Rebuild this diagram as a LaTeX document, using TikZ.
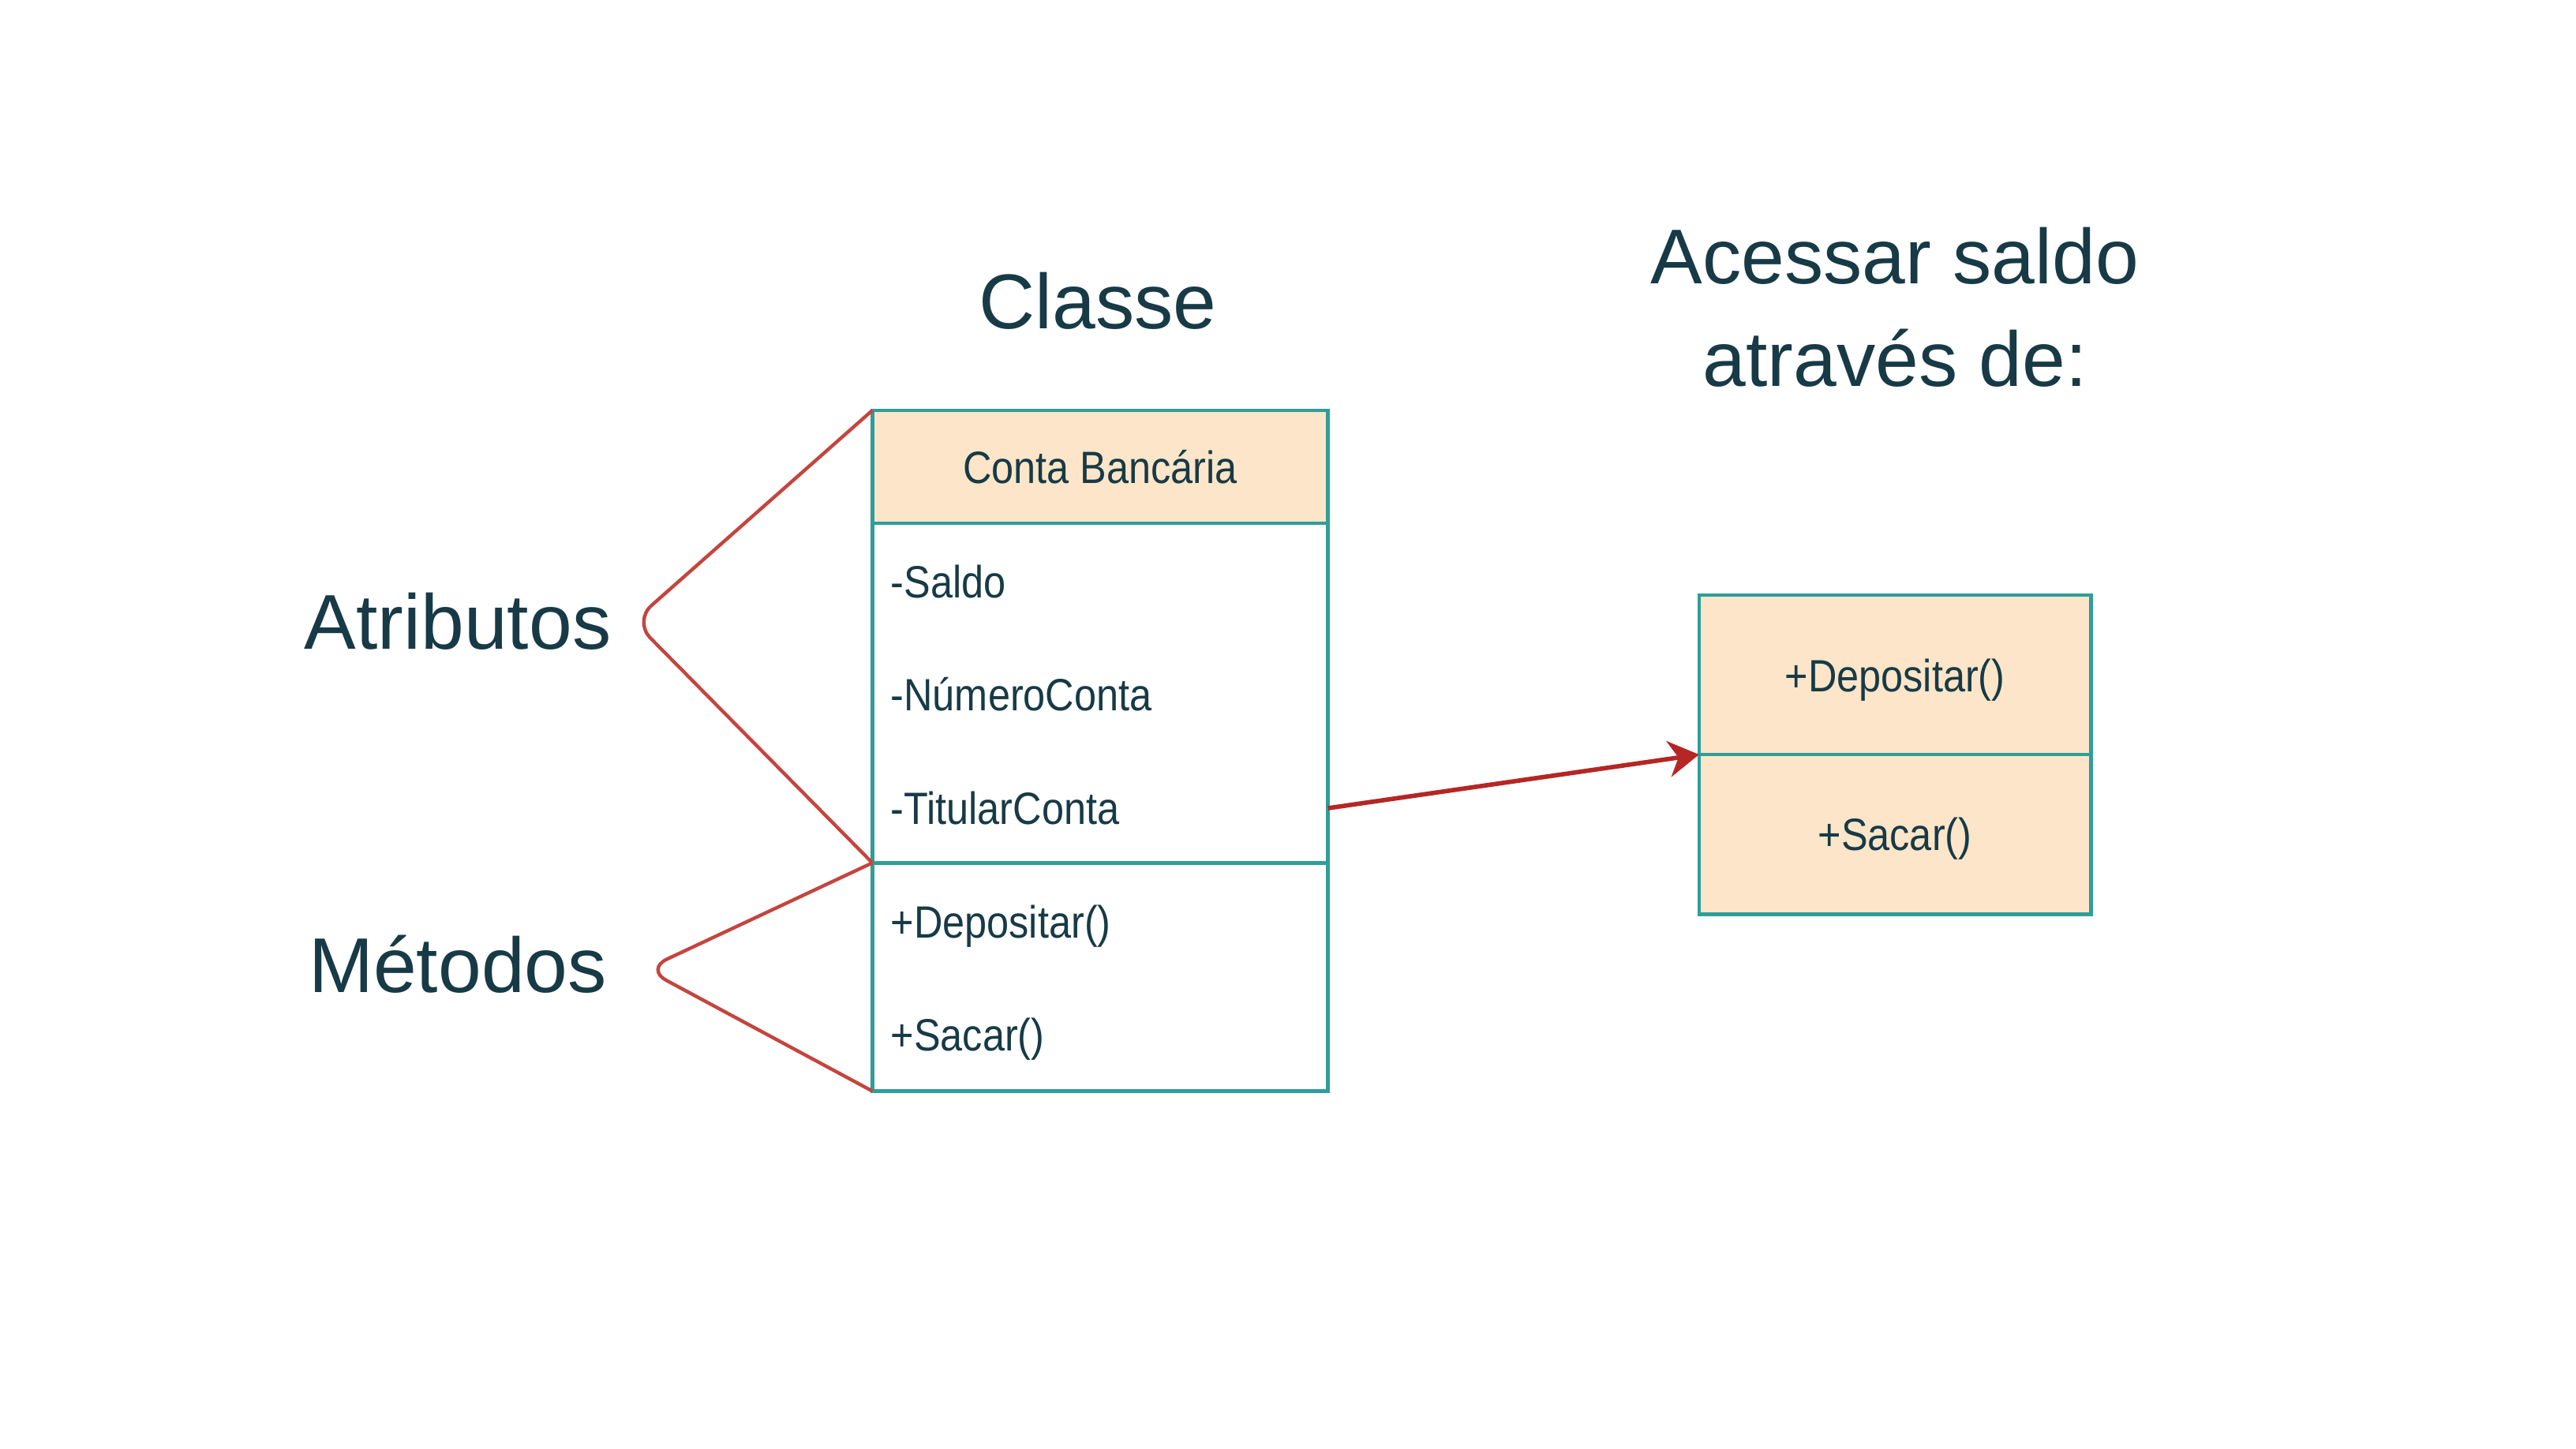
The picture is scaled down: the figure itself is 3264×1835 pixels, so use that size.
\documentclass[tikz,border=0pt]{standalone}
\usepackage{fontspec}
\setmainfont{Liberation Sans}
\newfontfamily\narrowfont[FakeStretch=0.88]{Liberation Sans}
\usetikzlibrary{arrows.meta}
\definecolor{txt}{HTML}{173A46}
\definecolor{teal}{HTML}{2E9E9A}
\definecolor{peach}{HTML}{FCE5C8}
\definecolor{bracket}{HTML}{C4453F}
\definecolor{arrowred}{HTML}{B52624}
\tikzset{
  part/.style={draw=teal, line width=1.35pt, minimum width=5.77cm, inner sep=0pt, outer sep=0pt},
  hdr/.style={part, fill=peach, minimum height=1.43cm, font=\narrowfont\fontsize{16.3}{19}\selectfont, text=txt},
  body/.style={part, fill=white},
  item/.style={anchor=west, inner sep=0pt, font=\narrowfont\fontsize{16.3}{19}\selectfont, text=txt},
  rbox/.style={draw=teal, line width=1.35pt, fill=peach, minimum width=4.96cm, minimum height=2.02cm, inner sep=0pt, outer sep=0pt, font=\narrowfont\fontsize{16.3}{19}\selectfont, text=txt},
  rtext/.style={inner sep=0pt, font=\narrowfont\fontsize{16.3}{19}\selectfont, text=txt},
  big/.style={font=\fontsize{28}{37}\selectfont, text=txt, align=center, inner sep=0pt},
  brace/.style={draw=bracket, line width=1.25pt, rounded corners=0.3cm},
  arr/.style={draw=arrowred, line width=1.6pt, -{Stealth[length=11pt,width=13pt,inset=3.5pt]}}
}
\begin{document}
\begin{tikzpicture}[x=0.01cm, y=-0.01cm]
\useasboundingbox (0,0) rectangle (3264,1835);
% class
\node[hdr] (cb) at (1394,591.5) {Conta Bancária};
\node[body, minimum height=4.30cm, anchor=north] (attrs) at (cb.south) {};
\node[body, minimum height=2.89cm, anchor=north] (meths) at (attrs.south) {};
\node[item] (saldo) at (1128,737) {-Saldo};
\node[item] (numero) at (1128,880) {-NúmeroConta};
\node[item] (titular) at (1128,1024) {-TitularConta};
\node[item] (dep) at (1128,1174) {+Depositar()};
\node[item] (sac) at (1128,1317) {+Sacar()};
% right box
\node[rbox] (rdep) at (2401,855) {};
\node[rbox, anchor=north] (rsac) at (rdep.south) {};
\node[rtext] (rdeptxt) at (2401,862) {+Depositar()};
\node[rtext] (rsactxt) at (2401,1063) {+Sacar()};
% labels
\node[big] (classe) at (1391,381) {Classe};
\node[big] (acessar) at (2401,389) {Acessar saldo\\através de:};
\node[big] (atrib) at (580,787) {Atributos};
\node[big] (metod) at (580,1222) {Métodos};
% brackets
\coordinate (tipA) at (803,787);
\coordinate (tipM) at (818,1228);
\draw[brace] (cb.north west) -- (tipA) -- (attrs.south west);
\draw[brace] (meths.north west) -- (tipM) -- (meths.south west);
% arrow
\coordinate (astart) at (attrs.east |- titular);
\draw[arr] (astart) -- (rdep.south west);
\end{tikzpicture}
\end{document}
